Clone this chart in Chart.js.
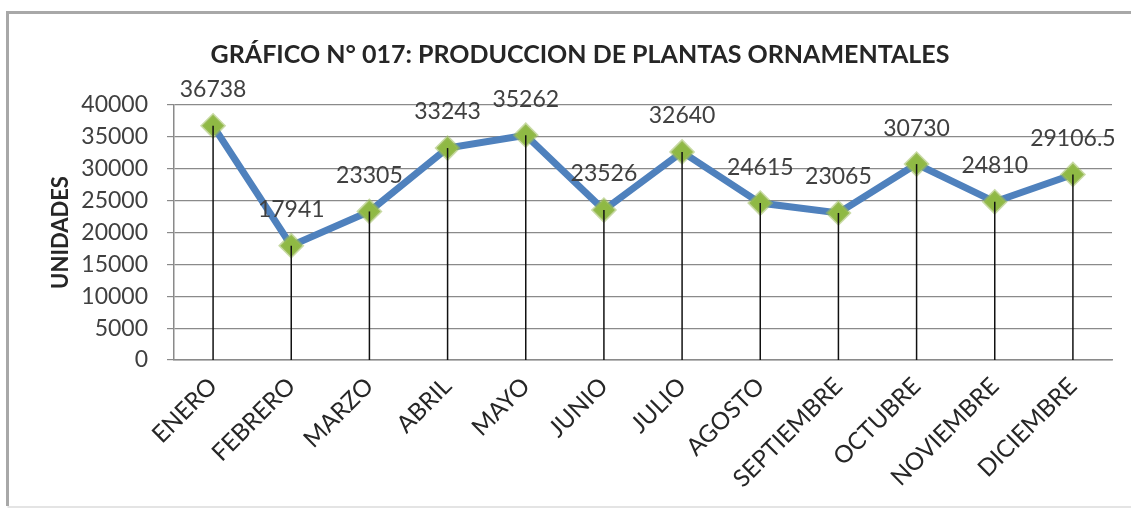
<!DOCTYPE html>
<html>
<head>
<meta charset="utf-8">
<script src="https://cdn.jsdelivr.net/npm/chart.js@4.4.1/dist/chart.umd.min.js"></script>
<style>
  html, body { margin: 0; padding: 0; background: #fff; overflow: hidden; }
  canvas { display: block; }
</style>
</head>
<body>
<canvas id="grafico" width="1131" height="510"></canvas>
<script>
// Datos del gráfico
const meses = ["ENERO", "FEBRERO", "MARZO", "ABRIL", "MAYO", "JUNIO", "JULIO",
  "AGOSTO", "SEPTIEMBRE", "OCTUBRE", "NOVIEMBRE", "DICIEMBRE"];
const unidades = [36738, 17941, 23305, 33243, 35262, 23526, 32640,
  24615, 23065, 30730, 24810, 29106.5];
const ejeY = { min: 0, max: 40000, paso: 5000 };

const fuente = "Lato, 'Open Sans', sans-serif";

// Marco exterior (solo arriba, izquierda y abajo, como en la captura)
const marco = {
  id: "marco",
  beforeDraw(chart) {
    const ctx = chart.ctx;
    ctx.save();
    ctx.fillStyle = "#fff";
    ctx.fillRect(0, 0, chart.width, chart.height);
    ctx.strokeStyle = "#a8a8a8";
    ctx.lineWidth = 3;
    ctx.beginPath();
    ctx.moveTo(chart.width + 5, 12.5);
    ctx.lineTo(7.5, 12.5);
    ctx.lineTo(7.5, 506);
    ctx.stroke();
    ctx.strokeStyle = "#e4e4e4";
    ctx.lineWidth = 2;
    ctx.beginPath();
    ctx.moveTo(7.5, 507);
    ctx.lineTo(chart.width + 5, 507);
    ctx.stroke();
    ctx.restore();
  }
};

// Líneas verticales desde cada punto hasta el eje y etiquetas de valor
const lineasYEtiquetas = {
  id: "lineasYEtiquetas",
  afterDatasetsDraw(chart) {
    const ctx = chart.ctx;
    const meta = chart.getDatasetMeta(0);
    const fondo = chart.chartArea.bottom;
    ctx.save();
    ctx.strokeStyle = "#111";
    ctx.lineWidth = 1.5;
    meta.data.forEach(p => {
      ctx.beginPath();
      ctx.moveTo(p.x, p.y);
      ctx.lineTo(p.x, fondo);
      ctx.stroke();
    });
    ctx.fillStyle = "#404040";
    ctx.font = "23px " + fuente;
    ctx.textAlign = "center";
    ctx.textBaseline = "middle";
    meta.data.forEach((p, i) => {
      ctx.fillText(String(unidades[i]), p.x, p.y - 36);
    });
    ctx.restore();
  }
};

new Chart(document.getElementById("grafico"), {
  type: "line",
  data: {
    labels: meses,
    datasets: [{
      data: unidades,
      borderColor: "#4F81BD",
      borderWidth: 7,
      tension: 0,
      pointStyle: "rectRot",
      pointRadius: 11,
      pointHoverRadius: 11,
      pointBackgroundColor: "#8FB944",
      pointBorderColor: "rgba(155,187,89,0.55)",
      pointBorderWidth: 3
    }]
  },
  options: {
    responsive: false,
    animation: false,
    layout: { padding: { left: 48, right: 19, top: 0, bottom: 0 } },
    plugins: {
      legend: { display: false },
      tooltip: { enabled: false },
      title: {
        display: true,
        text: "GRÁFICO N° 017: PRODUCCION DE PLANTAS ORNAMENTALES",
        color: "#262626",
        font: { family: fuente, size: 25, weight: "bold" },
        padding: { top: 40, bottom: 35 }
      }
    },
    scales: {
      x: {
        offset: true,
        grid: { display: false, drawTicks: false },
        border: { display: true, color: "#8a8a8a", width: 1.5 },
        ticks: {
          color: "#262626",
          font: { family: fuente, size: 24 },
          minRotation: 45,
          maxRotation: 45,
          padding: 12
        },
        afterFit: s => { s.height = 150; }
      },
      y: {
        min: ejeY.min,
        max: ejeY.max,
        ticks: {
          stepSize: ejeY.paso,
          color: "#404040",
          font: { family: fuente, size: 23 },
          padding: 19,
          callback: v => String(v)
        },
        grid: { color: "#8a8a8a", lineWidth: 1.2, tickLength: 7 },
        border: { display: true, color: "#8a8a8a", width: 1.5 },
        title: {
          display: true,
          text: "UNIDADES",
          color: "#262626",
          font: { family: fuente, size: 22, weight: "bold" },
          padding: 0
        },
        afterFit: s => { s.width = 126; }
      }
    }
  },
  plugins: [marco, lineasYEtiquetas]
});
</script>
</body>
</html>
